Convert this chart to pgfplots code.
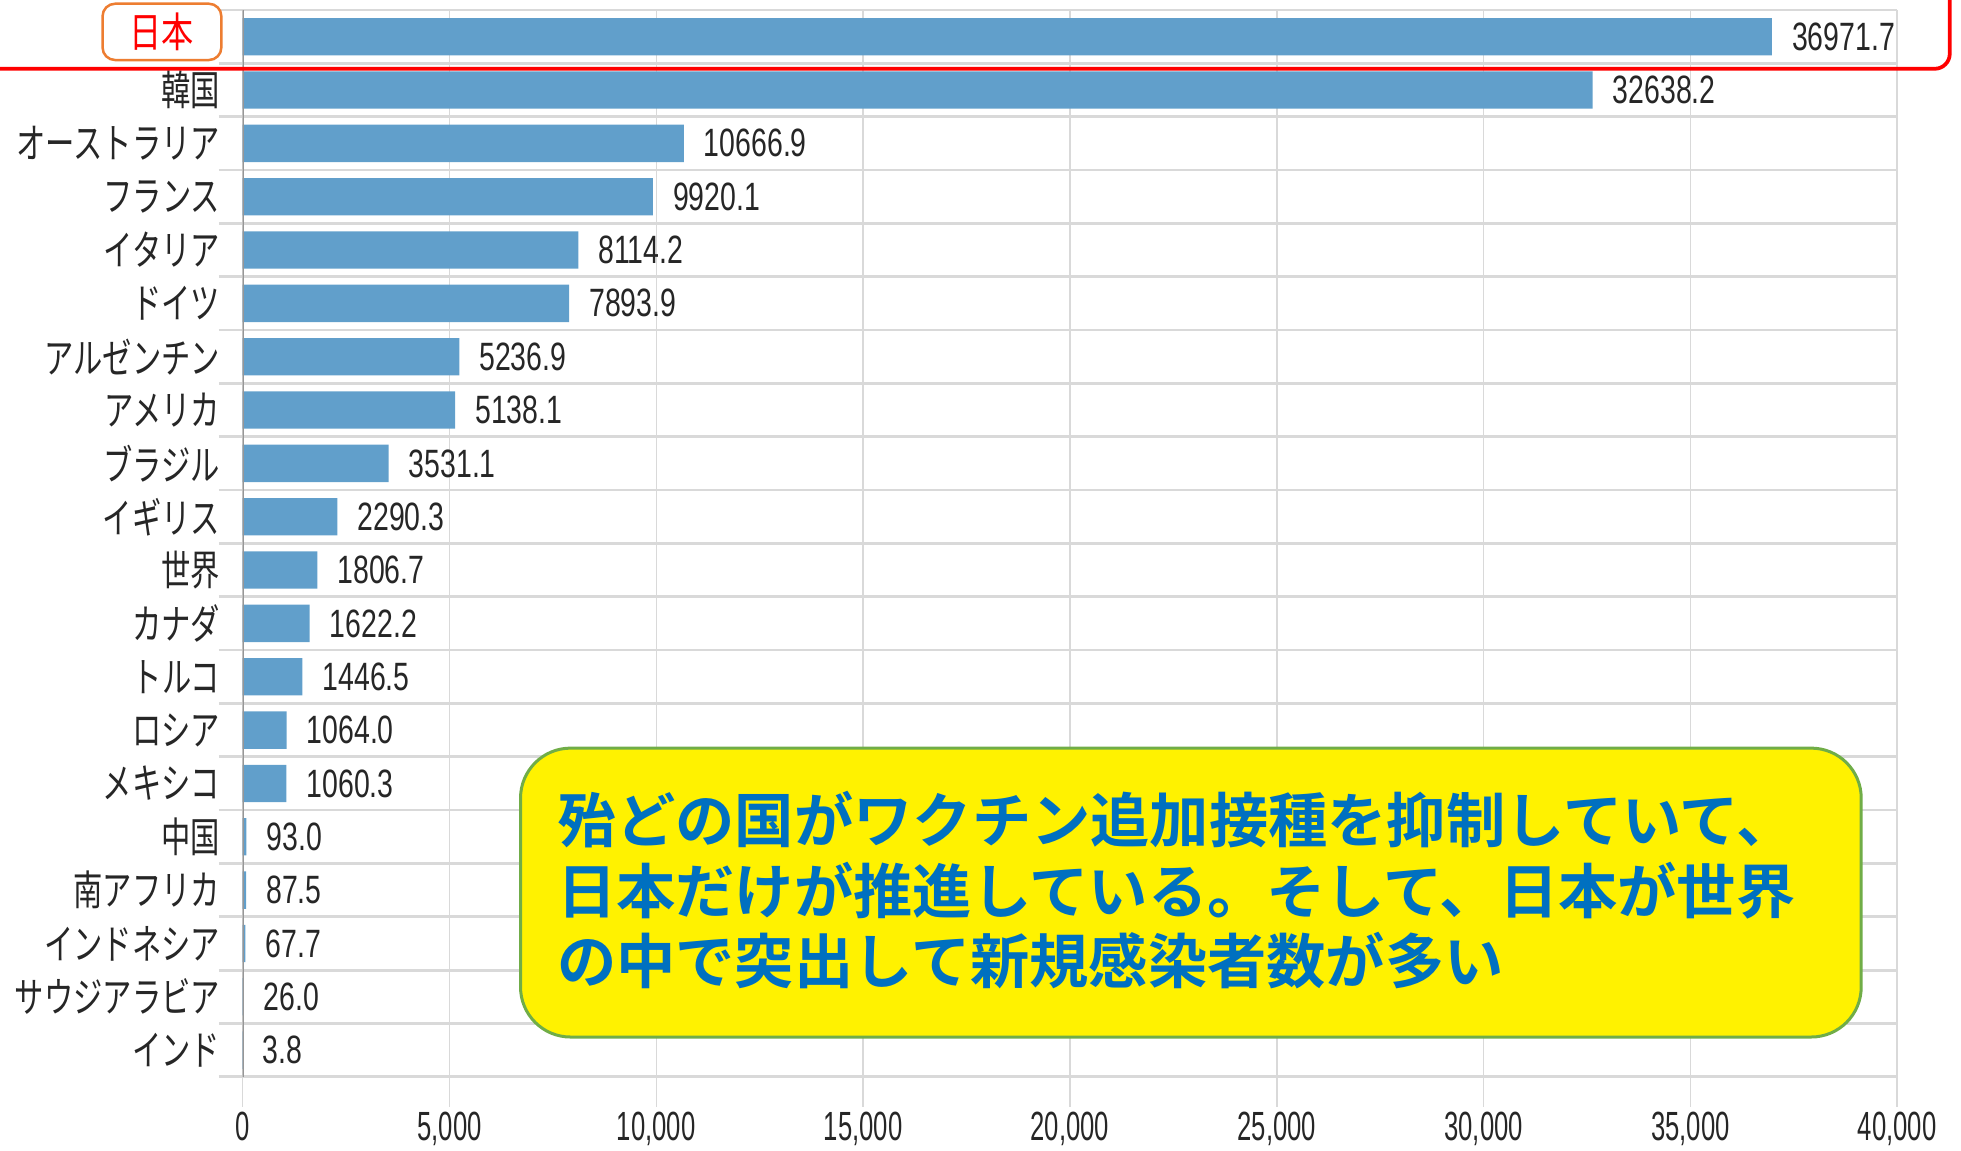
\documentclass[border=0pt]{standalone}
\usepackage{pgfplots}
\pgfplotsset{compat=1.18}
\usepackage{graphicx}
\usepackage{fontspec}
\setmainfont{Liberation Sans}
\newfontfamily\cjk[BoldFont={Noto Sans CJK JP Bold}]{Noto Sans CJK JP}
\definecolor{barblue}{RGB}{97,159,203}
\definecolor{gridgray}{RGB}{217,217,217}
\definecolor{axgray}{RGB}{150,150,150}
\definecolor{boxgreen}{RGB}{112,173,71}
\definecolor{txtblue}{RGB}{0,112,192}
\definecolor{orgbox}{RGB}{237,125,49}
\definecolor{lbl}{RGB}{38,38,38}
\newcommand\cat[1]{\scalebox{0.71}[1]{\cjk #1}}
\begin{document}
\begin{tikzpicture}
\useasboundingbox (0,0) rectangle (784pt,460pt);
\begin{axis}[
  at={(97pt,29.5pt)}, anchor=south west,
  scale only axis, width=661.5pt, height=426.5pt,
  xbar, bar width=0.7,
  xmin=0, xmax=40000, ymin=-0.5, ymax=19.5, y dir=reverse,
  axis line style={draw=none},
  scaled x ticks=false,
  xtick pos=bottom, ytick pos=left,
  xtick={0,5000,...,40000},
  ytick={0,...,19},
  minor ytick={-0.5,0.5,...,19.5},
  yticklabels={{},\cat{韓国},\cat{オーストラリア},\cat{フランス},\cat{イタリア},\cat{ドイツ},\cat{アルゼンチン},\cat{アメリカ},\cat{ブラジル},\cat{イギリス},\cat{世界},\cat{カナダ},\cat{トルコ},\cat{ロシア},\cat{メキシコ},\cat{中国},\cat{南アフリカ},\cat{インドネシア},\cat{サウジアラビア},\cat{インド}},
  xmajorgrids, yminorgrids,
  major grid style={gridgray, line width=0.6pt},
  minor grid style={gridgray, line width=1.1pt},
  tick align=outside,
  major tick length=12pt, minor tick length=9.5pt,
  major y tick style={draw=none},
  minor y tick style={gridgray, line width=1.1pt},
  major x tick style={gridgray, line width=0.6pt},
  xticklabel={\scalebox{0.63}[1]{\pgfmathprintnumber[fixed,precision=0,1000 sep={,},assume math mode=true]{\tick}}},
  xticklabel style={font=\fontsize{16.3}{19}\selectfont, text=lbl, yshift=1.5pt},
  yticklabel style={font=\fontsize{16.5}{19}\selectfont, text=lbl, xshift=6.5pt},
  point meta=x,
  nodes near coords={\scalebox{0.72}[1]{\pgfmathprintnumber[fixed,fixed zerofill,precision=1,1000 sep={},assume math mode=true]{\pgfplotspointmeta}}},
  nodes near coords style={font=\fontsize{15.8}{18}\selectfont, text=lbl, anchor=west, xshift=4.5pt},
]
\addplot[fill=barblue, draw=none] coordinates {
 (36971.7,0) (32638.2,1) (10666.9,2) (9920.1,3) (8114.2,4) (7893.9,5)
 (5236.9,6) (5138.1,7) (3531.1,8) (2290.3,9) (1806.7,10) (1622.2,11)
 (1446.5,12) (1064.0,13) (1060.3,14) (93.0,15) (87.5,16) (67.7,17)
 (26.0,18) (3.8,19)};
\draw[axgray, line width=0.8pt] (axis cs:0,-0.5) -- (axis cs:0,19.5);
\end{axis}
\draw[red, line width=1.5pt, rounded corners=6pt] (-10pt,432.5pt) -| (779.5pt,470pt);
\node[draw=orgbox, line width=1pt, rounded corners=5pt, fill=white, minimum width=47.5pt, minimum height=22.5pt, inner sep=0pt, text=red] at (64.75pt,447.25pt) {\scalebox{0.78}[1]{\cjk\fontsize{16.5}{18}\selectfont 日本}};
\node[draw=boxgreen, line width=1.2pt, fill=yellow, rounded corners=20pt, minimum width=536pt, minimum height=115.5pt, anchor=north west, inner sep=0pt] at (207.5pt,161.5pt) {};
\node[anchor=west, align=left, text=txtblue, font=\cjk\bfseries\fontsize{23.7}{28.2}\selectfont, inner sep=0pt] at (222.5pt,104pt) {殆どの国がワクチン追加接種を抑制していて、\\日本だけが推進している。そして、日本が世界\\の中で突出して新規感染者数が多い};
\end{tikzpicture}
\end{document}
